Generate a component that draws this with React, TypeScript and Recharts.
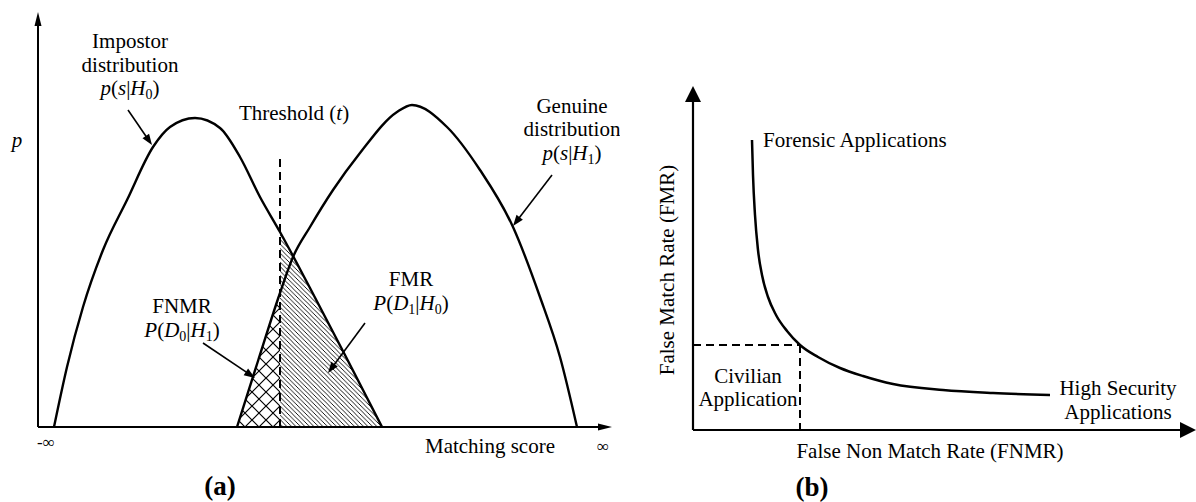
import React from "react"
import { Area, ComposedChart, Line, ReferenceDot, ReferenceLine, XAxis, YAxis } from "recharts"

// (a) score distributions (arbitrary units: score / density)
const impostorScore = [16, 29, 45, 65, 89, 115, 132, 157, 182, 202, 222, 242, 272, 307, 344]
const impostorDensity = [0, 60, 120, 177, 227, 280, 300, 309, 299, 270, 230, 195, 139, 72, 0]
const genuineScore = [199, 220, 242, 255, 272, 295, 322, 359, 374, 409, 442, 475, 502, 522, 539]
const genuineDensity = [0, 66, 134, 170, 200, 237, 274, 315, 322, 300, 257, 200, 130, 70, 0]
const threshold = 242
const thresholdTop = 270

// (b) error trade-off curve
const fnmrValues = [59, 60, 62, 65, 69, 75, 83, 94, 107, 125, 147, 170, 200, 250, 300, 357]
const fmrValues = [290, 255, 215, 180, 155, 133, 115, 99, 85, 73, 62, 54, 46, 40, 37, 35]
const civilianPoint = { fnmr: 107, fmr: 85 }

const SERIF = '"Liberation Serif", "Times New Roman", Times, serif'

const allScores = Array.from(new Set([...impostorScore, ...genuineScore])).sort((a, b) => a - b)
const densityData = allScores.map((score) => {
  const i = impostorScore.indexOf(score)
  const g = genuineScore.indexOf(score)
  const imp = i >= 0 ? impostorDensity[i] : null
  const gen = g >= 0 ? genuineDensity[g] : null
  return {
    score,
    impostor: imp,
    genuine: gen,
    fnmr: gen !== null && score <= threshold ? gen : null,
    fmr: imp !== null && score >= threshold ? imp : null,
  }
})

const rateData = fnmrValues.map((fnmr, i) => ({ fnmr, fmr: fmrValues[i] }))

function ArrowShape(props: any) {
  const { x1, y1, x2, y2, head, half, sw } = props
  const dx = x2 - x1
  const dy = y2 - y1
  const len = Math.hypot(dx, dy) || 1
  const ux = dx / len
  const uy = dy / len
  const bx = x2 - ux * head
  const by = y2 - uy * head
  const px = -uy * half
  const py = ux * half
  return (
    <g>
      <line x1={x1} y1={y1} x2={bx + ux} y2={by + uy} stroke="#000" strokeWidth={sw} />
      <polygon points={`${x2},${y2} ${bx + px},${by + py} ${bx - px},${by - py}`} fill="#000" />
    </g>
  )
}

function arrow(key: string, from: number[], to: number[], head = 11, half = 4, sw = 1.6) {
  return (
    <ReferenceLine
      key={key}
      segment={[{ x: from[0], y: from[1] }, { x: to[0], y: to[1] }]}
      ifOverflow="visible"
      shape={(p: any) => <ArrowShape {...p} head={head} half={half} sw={sw} />}
    />
  )
}

function note(
  key: string,
  x: number,
  y: number,
  content: React.ReactNode,
  o: { anchor?: string; size?: number; bold?: boolean; rotate?: boolean } = {}
) {
  const { anchor = "middle", size = 21, bold = false, rotate = false } = o
  return (
    <ReferenceDot
      key={key}
      x={x}
      y={y}
      r={0}
      ifOverflow="visible"
      shape={(p: any) => (
        <text
          x={p.cx}
          y={p.cy}
          textAnchor={anchor}
          fontFamily={SERIF}
          fontSize={size}
          fontWeight={bold ? "bold" : "normal"}
          fill="#000"
          transform={rotate ? `rotate(-90 ${p.cx} ${p.cy})` : undefined}
        >
          {content}
        </text>
      )}
    />
  )
}

const It = ({ children }: { children: React.ReactNode }) => <tspan fontStyle="italic">{children}</tspan>

const pOf = (h: string) => (
  <>
    <It>p</It>(<It>s</It>|<It>H</It><tspan fontSize={14} dy={4}>{h}</tspan><tspan dy={-4}>)</tspan>
  </>
)

const prob = (d: string, h: string) => (
  <>
    <It>P</It>(<It>D</It><tspan fontSize={14} dy={4}>{d}</tspan><tspan dy={-4}>|</tspan><It>H</It><tspan fontSize={14} dy={4}>{h}</tspan><tspan dy={-4}>)</tspan>
  </>
)

function DistributionPanel() {
  return (
    <ComposedChart width={620} height={502} data={densityData} margin={{ top: 9, right: 8, bottom: 75, left: 38 }}>
      <defs>
        <pattern id="fmrHatch" patternUnits="userSpaceOnUse" width={4.5} height={4.5}>
          <path d="M-1,-1 L5.5,5.5 M-1,3.5 L1,5.5 M3.5,-1 L5.5,1" stroke="#000" strokeWidth={0.9} />
        </pattern>
        <pattern id="fnmrHatch" patternUnits="userSpaceOnUse" width={14} height={14}>
          <path d="M0,0 L14,14 M14,0 L0,14" stroke="#000" strokeWidth={1.2} />
        </pattern>
      </defs>
      <XAxis type="number" dataKey="score" domain={[0, 574]} hide allowDataOverflow />
      <YAxis type="number" domain={[0, 418]} hide allowDataOverflow />
      <Area dataKey="fmr" type="monotone" fill="url(#fmrHatch)" fillOpacity={1} stroke="none" connectNulls dot={false} activeDot={false} isAnimationActive={false} />
      <Area dataKey="fnmr" type="monotone" fill="url(#fnmrHatch)" fillOpacity={1} stroke="none" connectNulls dot={false} activeDot={false} isAnimationActive={false} />
      <Line dataKey="impostor" type="monotone" stroke="#000" strokeWidth={2.4} connectNulls dot={false} activeDot={false} isAnimationActive={false} />
      <Line dataKey="genuine" type="monotone" stroke="#000" strokeWidth={2.4} connectNulls dot={false} activeDot={false} isAnimationActive={false} />
      <ReferenceLine
        segment={[{ x: threshold, y: 0 }, { x: threshold, y: thresholdTop }]}
        stroke="#000"
        strokeWidth={2}
        strokeDasharray="8 5"
        ifOverflow="visible"
      />
      {arrow("yaxis", [0, 0], [0, 415], 14, 3.5, 2)}
      {arrow("xaxis", [0, 0], [574, 0], 14, 3.5, 2)}
      {arrow("impArrow", [90, 317], [114, 282])}
      {arrow("genArrow", [514, 252], [475, 201])}
      {arrow("fmrArrow", [327, 104], [290, 54])}
      {arrow("fnmrArrow", [165, 84], [217, 49])}
      {note("imp1", 92, 379, "Impostor")}
      {note("imp2", 92, 355, "distribution")}
      {note("imp3", 92, 332, pOf("0"))}
      {note("thr", 256, 307, <>Threshold (<It>t</It>)</>)}
      {note("gen1", 534, 314, "Genuine")}
      {note("gen2", 534, 291, "distribution")}
      {note("gen3", 534, 267, pOf("1"))}
      {note("fmr1", 373, 141, "FMR")}
      {note("fmr2", 373, 117, prob("1", "0"))}
      {note("fnmr1", 144, 114, "FNMR")}
      {note("fnmr2", 144, 90, prob("0", "1"))}
      {note("pLabel", -21, 280, <It>p</It>)}
      {note("minf", 8, -21, "-∞", { size: 17 })}
      {note("score", 452, -26, "Matching score")}
      {note("inf", 565, -25, "∞", { size: 17 })}
      {note("a", 182, -68, "(a)", { size: 27, bold: true })}
    </ComposedChart>
  )
}

function TradeoffPanel() {
  return (
    <ComposedChart width={556} height={502} data={rateData} margin={{ top: 86, right: 0, bottom: 72, left: 53 }}>
      <XAxis type="number" dataKey="fnmr" domain={[0, 503]} hide allowDataOverflow />
      <YAxis type="number" domain={[0, 344]} hide allowDataOverflow />
      <Line dataKey="fmr" type="monotone" stroke="#000" strokeWidth={2.5} dot={false} activeDot={false} isAnimationActive={false} />
      <ReferenceLine
        segment={[{ x: 0, y: civilianPoint.fmr }, { x: civilianPoint.fnmr, y: civilianPoint.fmr }]}
        stroke="#000"
        strokeWidth={2}
        strokeDasharray="8 5"
        ifOverflow="visible"
      />
      <ReferenceLine
        segment={[{ x: civilianPoint.fnmr, y: civilianPoint.fmr }, { x: civilianPoint.fnmr, y: 0 }]}
        stroke="#000"
        strokeWidth={2}
        strokeDasharray="8 5"
        ifOverflow="visible"
      />
      {arrow("yaxis", [0, 0], [0, 344], 16, 8, 2.2)}
      {arrow("xaxis", [0, 0], [503, 0], 16, 8, 2.2)}
      {note("forensic", 70, 283, "Forensic Applications", { anchor: "start" })}
      {note("civ1", 55, 47, "Civilian")}
      {note("civ2", 55, 24, "Application")}
      {note("high1", 425, 35, "High Security")}
      {note("high2", 425, 11, "Applications")}
      {note("xlabel", 237, -28, "False Non Match Rate (FNMR)")}
      {note("ylabel", -19, 160, "False Match Rate (FMR)", { rotate: true })}
      {note("b", 119, -66, "(b)", { size: 27, bold: true })}
    </ComposedChart>
  )
}

export default function App() {
  return (
    <div style={{ position: "absolute", left: 0, top: 0, width: 1196, height: 502, background: "#fff" }}>
      <div style={{ position: "absolute", left: 0, top: 0 }}>
        <DistributionPanel />
      </div>
      <div style={{ position: "absolute", left: 640, top: 0 }}>
        <TradeoffPanel />
      </div>
    </div>
  )
}
